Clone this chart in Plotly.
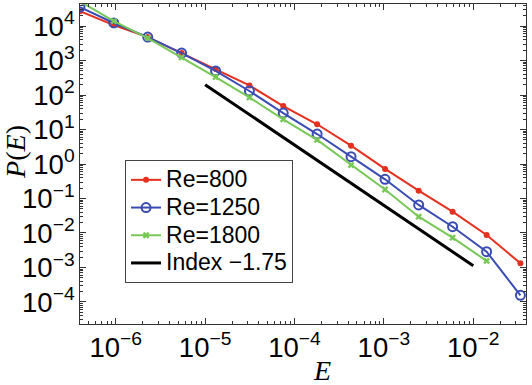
import plotly.graph_objects as go

# energy bins (log-spaced)
E = [3.98e-7, 9.5e-7, 2.28e-6, 5.46e-6, 1.31e-5, 3.13e-5, 7.48e-5,
     1.79e-4, 4.29e-4, 1.03e-3, 2.45e-3, 5.87e-3, 1.41e-2, 3.37e-2]

P_800 = [2.7e4, 1.07e4, 4.8e3, 1.66e3, 5.7e2, 1.9e2, 48,
         14.2, 3.4, 0.72, 0.168, 0.0414, 8.75e-3, 1.32e-3]
P_1250 = [3.55e4, 1.23e4, 4.8e3, 1.65e3, 5.0e2, 1.31e2, 30,
          7.4, 1.63, 0.36, 0.065, 0.0152, 2.87e-3, 1.55e-4]
P_1800 = [5.2e4, 1.39e4, 4.5e3, 1.23e3, 3.3e2, 85, 19.8,
          5.0, 0.93, 0.182, 0.0296, 7.3e-3, 1.55e-3]

# reference power law, index -1.75
index_E = [1e-5, 1e-2]
index_P = [200, 1.12e-3]

def leg(s):
    # bigger text than the legend row height would normally allow
    return '<span style="font-size:23px">' + s + '</span>'

fig = go.Figure()

fig.add_trace(go.Scatter(x=E, y=P_800, mode='lines+markers', name=leg('Re=800'),
                         line=dict(color='#e5301f', width=2),
                         marker=dict(symbol='circle', size=6, color='#e5301f')))
fig.add_trace(go.Scatter(x=E, y=P_1250, mode='lines+markers', name=leg('Re=1250'),
                         line=dict(color='#3a4cb2', width=2),
                         marker=dict(symbol='circle-open', size=9, color='#3a4cb2',
                                     line=dict(width=2))))
fig.add_trace(go.Scatter(x=E[:len(P_1800)], y=P_1800, mode='lines+markers', name=leg('Re=1800'),
                         line=dict(color='#78c858', width=2),
                         marker=dict(symbol='x', size=6, color='#78c858')))
fig.add_trace(go.Scatter(x=index_E, y=index_P, mode='lines', name=leg('Index \u22121.75'),
                         line=dict(color='black', width=3)))

axis_common = dict(type='log', showgrid=False, zeroline=False, automargin=False,
                   showline=True, linecolor='#333', linewidth=1, mirror='ticks',
                   ticks='inside', ticklen=6, tickcolor='#333',
                   exponentformat='power', dtick=1,
                   minor=dict(ticks='inside', ticklen=3, tickcolor='#333', showgrid=False),
                   tickfont=dict(family='Liberation Sans, Arial', size=22, color='black'))

fig.update_xaxes(range=[-6.40, -1.41], **axis_common)
fig.update_yaxes(range=[-4.64, 4.64],
                 labelalias={'10': '10<sup>1</sup>', '1': '10<sup>0</sup>'},
                 **axis_common)

title_font = dict(family='Liberation Serif, Times New Roman', size=28, color='black')
fig.add_annotation(text='<i>E</i>', xref='paper', yref='paper',
                   x=0.542, y=-0.146, xanchor='center', yanchor='middle',
                   showarrow=False, font=title_font)
fig.add_annotation(text='<i>P</i>(<i>E</i>)', xref='paper', yref='paper',
                   x=-0.146, y=0.5375, xanchor='center', yanchor='middle',
                   textangle=-90, showarrow=False, font=title_font)

fig.update_layout(width=532, height=385,
                  margin=dict(l=80, r=6, t=4, b=61),
                  paper_bgcolor='white', plot_bgcolor='white',
                  showlegend=True,
                  legend=dict(x=0.101, y=0.5125, xanchor='left', yanchor='top',
                              bgcolor='white', bordercolor='#444', borderwidth=1,
                              font=dict(family='Liberation Sans, Arial', size=19, color='black'),
                              itemwidth=30, tracegroupgap=0))

# page body has a default margin, drop it so the figure fills the window
fig.write_html("out.html", config={'displayModeBar': False},
               post_script="document.body.style.margin='0';")
